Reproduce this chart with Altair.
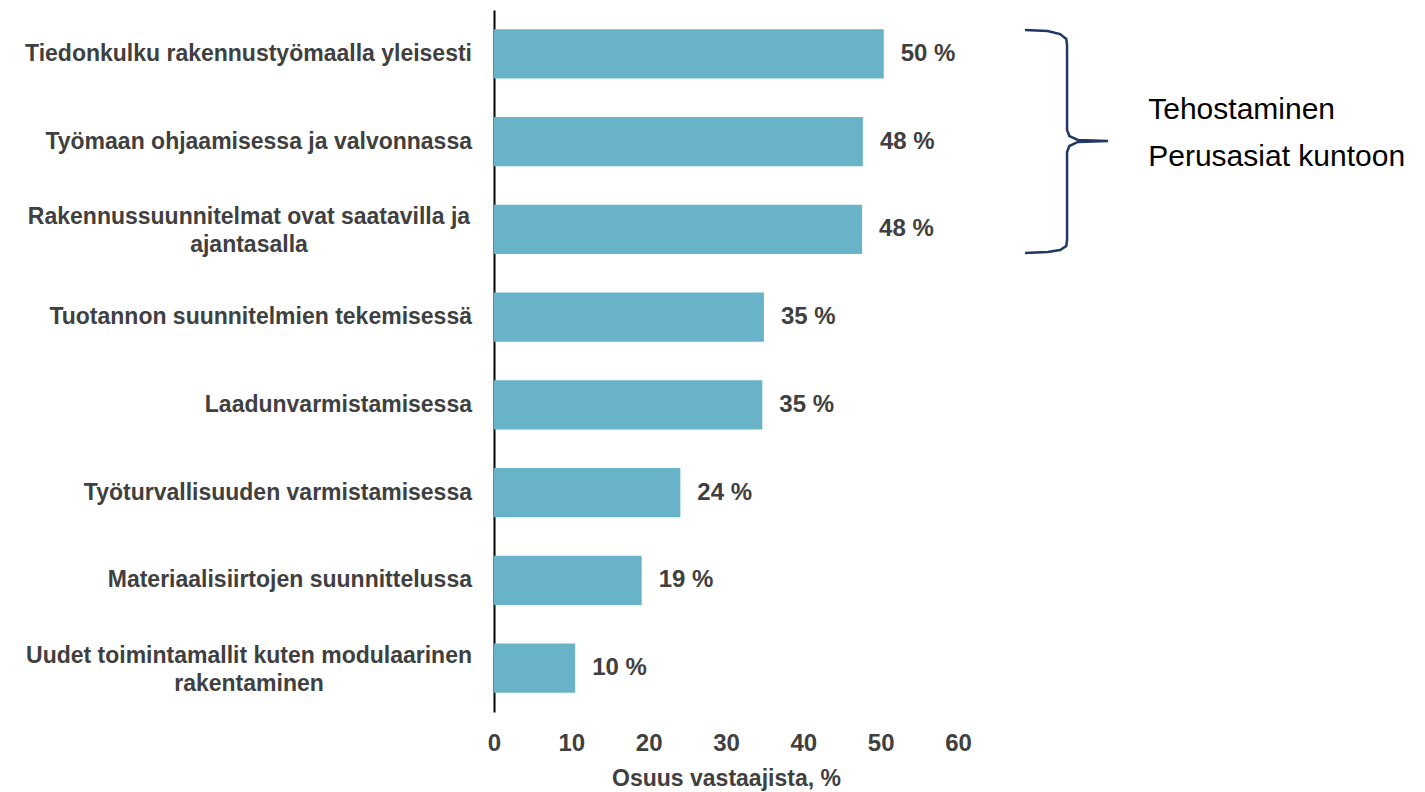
import altair as alt
import pandas as pd

categories = [
    "Tiedonkulku rakennustyömaalla yleisesti",
    "Työmaan ohjaamisessa ja valvonnassa",
    "Rakennussuunnitelmat ovat saatavilla ja\najantasalla",
    "Tuotannon suunnitelmien tekemisessä",
    "Laadunvarmistamisessa",
    "Työturvallisuuden varmistamisessa",
    "Materiaalisiirtojen suunnittelussa",
    "Uudet toimintamallit kuten modulaarinen\nrakentaminen",
]
values = [50.4, 47.7, 47.6, 34.9, 34.7, 24.1, 19.1, 10.5]
value_labels = ["50 %", "48 %", "48 %", "35 %", "35 %", "24 %", "19 %", "10 %"]
x_ticks = [0, 10, 20, 30, 40, 50, 60]

# Brace annotation (x in axis units, y in category-band units from top)
brace_x = [68.66, 71.6, 73.2, 74.0, 74.1, 74.1, 74.4, 75.5, 79.4, 75.5, 74.4, 74.1, 74.1, 74.0, 73.2, 71.6, 68.66]
brace_y = [0.228, 0.239, 0.274, 0.330, 0.399, 1.368, 1.436, 1.481, 1.493, 1.504, 1.550, 1.618, 2.621, 2.689, 2.735, 2.758, 2.769]
brace_texts = ["Tehostaminen", "Perusasiat kuntoon"]
brace_text_x = [84.6, 84.6]
brace_text_y = [1.14, 1.67]

FONT = "Liberation Sans"
GRAY = "#404040"
BAR = "#69B3C8"
NAVY = "#1F3864"

df = pd.DataFrame({
    "category": categories,
    "value": values,
    "label": value_labels,
    "wrap": ["\n" in c for c in categories],
})
brace_df = pd.DataFrame({"value": brace_x, "pos": brace_y, "i": list(range(len(brace_x)))})
btext_df = pd.DataFrame({"value": brace_text_x, "pos": brace_text_y, "t": brace_texts})

xscale = alt.Scale(domain=[0, 60], nice=False)
xaxis = alt.Axis(
    values=x_ticks, grid=False, domain=False, ticks=False, labelFlush=False,
    labelFont=FONT, labelFontSize=24, labelFontWeight="bold", labelColor=GRAY,
    labelPadding=19, title="Osuus vastaajista, %", titleFont=FONT,
    titleFontSize=23, titleFontWeight="bold", titleColor=GRAY, titlePadding=12,
)
yenc = alt.Y(
    "category:N", sort=categories,
    scale=alt.Scale(paddingInner=0.44, paddingOuter=0.22),
    axis=alt.Axis(labels=False, ticks=False, title=None, domainColor="black", domainWidth=2),
)

base = alt.Chart(df).encode(y=yenc)

bars = base.mark_bar(color=BAR).encode(x=alt.X("value:Q", scale=xscale, axis=xaxis))

vals = base.mark_text(
    align="left", baseline="middle", dx=17, font=FONT, fontSize=24,
    fontWeight="bold", color=GRAY,
).encode(x=alt.X("value:Q", scale=xscale, axis=xaxis), text="label:N")

ylab_single = base.transform_filter("!datum.wrap").mark_text(
    align="right", baseline="middle", font=FONT, fontSize=23,
    fontWeight="bold", color=GRAY, lineBreak="\n",
).encode(x=alt.value(-22), text="category:N")

ylab_wrap = base.transform_filter("datum.wrap").mark_text(
    align="center", baseline="middle", font=FONT, fontSize=23,
    fontWeight="bold", color=GRAY, lineBreak="\n", lineHeight=28, dy=-12,
).encode(x=alt.value(-245), text="category:N")

main = alt.layer(bars, vals, ylab_single, ylab_wrap)

yq = alt.Y("pos:Q", scale=alt.Scale(domain=[0, 8], reverse=True, nice=False), axis=None)

brace = alt.Chart(brace_df).mark_line(color=NAVY, strokeWidth=2.5).encode(
    x=alt.X("value:Q", scale=xscale, axis=xaxis), y=yq, order="i:Q"
)
btext = alt.Chart(btext_df).mark_text(
    align="left", baseline="middle", font=FONT, fontSize=30, color="black"
).encode(x=alt.X("value:Q", scale=xscale, axis=xaxis), y=yq, text="t:N")

annot = alt.layer(brace, btext)

chart = alt.layer(main, annot).resolve_scale(y="independent").properties(
    width=464, height=702,
    padding={"left": 486, "top": 2, "right": 455, "bottom": 80},
    autosize=alt.AutoSizeParams(type="none"),
).configure_view(stroke=None)

chart.save("out.html", embed_options={"renderer": "svg", "actions": False})
